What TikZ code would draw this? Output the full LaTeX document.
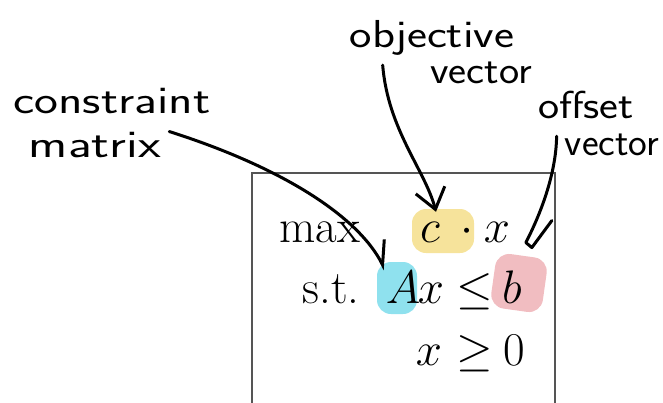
\RequirePackage{fix-cm}
\documentclass[tikz,border=0pt]{standalone}
\usepackage{fontspec}
\usepackage{graphicx}
\usepackage{tikz}
\usetikzlibrary{arrows.meta,positioning,calc}
\definecolor{hlyellow}{HTML}{F6E39B}
\definecolor{hlcyan}{HTML}{8FE1EE}
\definecolor{hlpink}{HTML}{F1BDC1}
\definecolor{boxgray}{HTML}{555555}
\newcommand{\handtext}[2][1.1]{\scalebox{#1}[1]{#2}}

\begin{document}
\begin{tikzpicture}[x=1pt,y=-1pt,
  math/.style={inner sep=0pt,anchor=base,font=\fontsize{47}{52}\selectfont},
  hand/.style={inner sep=0pt,anchor=base,font=\sffamily\fontsize{39}{42}\selectfont},
  blob/.style={rectangle,rounded corners=14pt,inner sep=0pt},
  pen/.style={line width=3pt,line cap=round,line join=round},
  pointer/.style={pen,-{Straight Barb[length=20pt,width=30pt,line width=3pt]}},
  halfpointer/.style={pen,-{Straight Barb[length=22pt,width=26pt,line width=3pt,left]}}]
\useasboundingbox (0,0) rectangle (663,402);
% highlights
\node[blob,fill=hlyellow,minimum width=62pt,minimum height=44pt] (hlc) at (443,231) {};
\node[blob,fill=hlcyan,minimum width=40pt,minimum height=52pt] (hlA) at (397,288) {};
\node[blob,fill=hlpink,minimum width=52pt,minimum height=55pt,rotate=-8] (hlb) at (519,283) {};
% frame
\draw[boxgray,line width=2pt] (252,420) -- (252,173) -- (555,173) -- (555,420);
% the program
\node[math] (max) at (320,242) {max};
\node[math] (c) at (430,242) {$c$};
\node[math] (dot) at (467,242) {$\cdot$};
\node[math] (x1) at (497,242) {$x$};
\node[math] (st) at (331,303) {s.t.};
\node[math] (A) at (403,303) {$A$};
\node[math] (x2) at (431,303) {$x$};
\node[math] (le) at (475,303) {$\leq$};
\node[math] (b) at (512,303) {$b$};
\node[math] (x3) at (429,365) {$x$};
\node[math] (ge) at (475,365) {$\geq$};
\node[math] (zero) at (514,365) {$0$};
% notes
\node[hand] (cons) at (112,113) {\handtext[1.3]{constraint}};
\node[hand] (mat) at (95,157) {\handtext[1.35]{matrix}};
\node[hand] (obj) at (432,47) {\handtext[1.22]{objective}};
\node[hand] (objvec) at (481,83) {\handtext[1.1]{vector}};
\node[hand] (off) at (586,118) {\handtext[1.15]{offset}};
\node[hand] (offvec) at (612,155) {\handtext[1.02]{vector}};
% pointers
\draw[halfpointer] ($(mat.north east)+(8,0)$) .. controls (290,170) and (360,220) .. ($(hlA.north)+(-12,8)$);
\draw[pointer] ($(obj.south west)+(33,10)$) .. controls (388,130) and (425,170) .. ($(hlc.north)+(-7,3)$);
\draw[pen] ($(offvec.north west)+(-8,3)$) .. controls (556,175) and (540,215) .. ($(hlb.north)+(3,-13)$)
  coordinate (offtip) -- ++(6,5) -- ++(20,-27);
\end{tikzpicture}
\end{document}
